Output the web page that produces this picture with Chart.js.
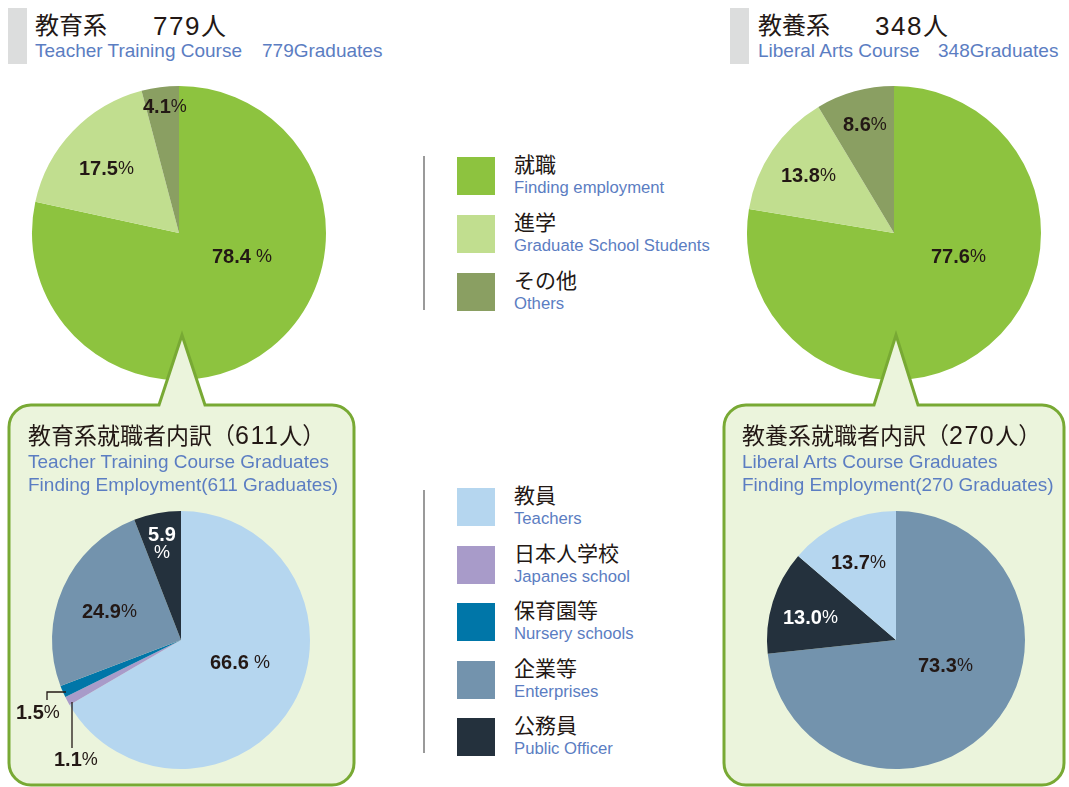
<!DOCTYPE html>
<html>
<head>
<meta charset="utf-8">
<script src="https://cdn.jsdelivr.net/npm/chart.js"></script>
<style>
  body { margin: 0; background: #fff; }
  #page { position: relative; width: 1069px; height: 787px; overflow: hidden;
          font-family: 'Liberation Sans', 'Noto Sans CJK JP', sans-serif; }
  .abs { position: absolute; white-space: nowrap; }
  .jp { color: #231815; font-family: 'Liberation Sans', 'Noto Sans CJK JP', sans-serif; }
  .en { color: #5b7dc2; font-family: 'Liberation Sans', sans-serif; }
  .num { letter-spacing: 1.5px; }
  .bar { position: absolute; background: #dcdddd; }
  .vline { position: absolute; width: 2px; background: #9a9a9a; }
  .sw { position: absolute; width: 38px; height: 38px; }
  canvas { position: absolute; }
</style>
</head>
<body>
<div id="page">
  <!-- headers -->
  <div class="bar" style="left:8px;top:8px;width:19px;height:56px"></div>
  <div class="abs jp" style="left:35px;top:11px;font-size:24px;line-height:30px">教育系</div>
  <div class="abs jp" style="left:153px;top:11px;font-size:25px;line-height:30px"><span class="num" style="font-size:26px">779</span>人</div>
  <div class="abs en" style="left:35px;top:40px;font-size:19px;line-height:22px">Teacher Training Course</div>
  <div class="abs en" style="left:262px;top:40px;font-size:19px;line-height:22px">779Graduates</div>

  <div class="bar" style="left:730px;top:8px;width:19px;height:56px"></div>
  <div class="abs jp" style="left:758px;top:11px;font-size:24px;line-height:30px">教養系</div>
  <div class="abs jp" style="left:875px;top:11px;font-size:25px;line-height:30px"><span class="num" style="font-size:26px">348</span>人</div>
  <div class="abs en" style="left:758px;top:40px;font-size:19px;line-height:22px">Liberal Arts Course</div>
  <div class="abs en" style="left:938px;top:40px;font-size:19px;line-height:22px">348Graduates</div>

  <canvas id="pieTL" width="340" height="310" style="left:10px;top:80px;z-index:1"></canvas>
  <canvas id="pieTR" width="330" height="310" style="left:730px;top:80px;z-index:1"></canvas>

  <svg class="abs" width="1069" height="787" style="left:0;top:0;z-index:2">
    <path id="boxL" fill="#ebf4dc" stroke="#78a934" stroke-width="3" stroke-linejoin="miter"></path>
    <path id="boxR" fill="#ebf4dc" stroke="#78a934" stroke-width="3" stroke-linejoin="miter"></path>
  </svg>

  <div id="boxText" style="position:absolute;left:0;top:0;z-index:3"></div>

  <canvas id="pieBL" width="340" height="280" style="left:10px;top:500px;z-index:3"></canvas>
  <canvas id="pieBR" width="330" height="280" style="left:728px;top:500px;z-index:3"></canvas>

  <div id="legends"></div>
</div>

<script>
// ---- data ----
const courseLabels = ['就職', '進学', 'その他'];
const courseLabelsEn = ['Finding employment', 'Graduate School Students', 'Others'];
const teacherCourseShares = [78.4, 17.5, 4.1];
const liberalCourseShares = [77.6, 13.8, 8.6];

const jobLabels = ['教員', '日本人学校', '保育園等', '企業等', '公務員'];
const jobLabelsEn = ['Teachers', 'Japanes school', 'Nursery schools', 'Enterprises', 'Public Officer'];
const teacherJobShares = [66.6, 1.1, 1.5, 24.9, 5.9];

const liberalJobLabels = ['企業等', '公務員', '教員'];
const liberalJobShares = [73.3, 13.0, 13.7];

// ---- colours ----
const courseColors = {'就職': '#8dc33f', '進学': '#c1de8f', 'その他': '#8a9f62'};
const jobColors = {'教員': '#b5d6ef', '日本人学校': '#a89bc9', '保育園等': '#0076a8', '企業等': '#7393ad', '公務員': '#24313d'};

const DARK = '#231815';

// ---- boxes with pointer ----
function boxPath(x0, x1, y0, y1, r, n0, apexX, apexY, n1) {
  return `M${x0 + r},${y0} L${n0},${y0} L${apexX},${apexY} L${n1},${y0} L${x1 - r},${y0} ` +
    `A${r},${r} 0 0 1 ${x1},${y0 + r} L${x1},${y1 - r} A${r},${r} 0 0 1 ${x1 - r},${y1} ` +
    `L${x0 + r},${y1} A${r},${r} 0 0 1 ${x0},${y1 - r} L${x0},${y0 + r} A${r},${r} 0 0 1 ${x0 + r},${y0} Z`;
}
document.getElementById('boxL').setAttribute('d', boxPath(9, 354, 405, 785, 22, 159, 182, 335, 205));
document.getElementById('boxR').setAttribute('d', boxPath(724, 1064, 405, 785, 22, 874, 896, 335, 918));

// box headings
document.getElementById('boxText').innerHTML = `
  <div class="abs jp" style="left:28px;top:420px;font-size:23px;line-height:30px">教育系就職者内訳（<span class="num" style="font-size:25px">611</span>人）</div>
  <div class="abs en" style="left:28px;top:451px;font-size:19px;line-height:22px">Teacher Training Course Graduates</div>
  <div class="abs en" style="left:28px;top:474px;font-size:19px;line-height:22px">Finding Employment(611 Graduates)</div>
  <div class="abs jp" style="left:742px;top:420px;font-size:23px;line-height:30px">教養系就職者内訳（<span class="num" style="font-size:25px">270</span>人）</div>
  <div class="abs en" style="left:742px;top:451px;font-size:19px;line-height:22px">Liberal Arts Course Graduates</div>
  <div class="abs en" style="left:742px;top:474px;font-size:19px;line-height:22px">Finding Employment(270 Graduates)</div>`;

// ---- legends ----
function legend(labels, labelsEn, colors, top, step, lineTop, lineBottom) {
  let html = `<div class="vline" style="left:423px;top:${lineTop}px;height:${lineBottom - lineTop}px"></div>`;
  labels.forEach((l, i) => {
    const y = top + i * step;
    html += `<div class="sw" style="left:457px;top:${y}px;background:${colors[l]}"></div>`;
    html += `<div class="abs jp" style="left:514px;top:${y - 6}px;font-size:21px;line-height:27px">${l}</div>`;
    html += `<div class="abs en" style="left:514px;top:${y + 21}px;font-size:16.7px;line-height:19px">${labelsEn[i]}</div>`;
  });
  return html;
}
document.getElementById('legends').innerHTML =
  legend(courseLabels, courseLabelsEn, courseColors, 157, 58, 156, 310) +
  legend(jobLabels, jobLabelsEn, jobColors, 488, 57.5, 490, 753);

// ---- slice labels plugin ----
const sliceLabels = {
  id: 'sliceLabels',
  afterDatasetsDraw(chart, args, opts) {
    const arc = chart.getDatasetMeta(0).data[0];
    const cx = arc.x, cy = arc.y;
    const ctx = chart.ctx;
    const values = chart.data.datasets[0].data;
    ctx.save();
    ctx.textBaseline = 'middle';
    opts.marks.forEach((m, i) => {
      const num = values[i].toFixed(1);
      ctx.fillStyle = m.color || DARK;
      if (m.line) {
        ctx.strokeStyle = DARK;
        ctx.lineWidth = 1.3;
        ctx.beginPath();
        m.line.forEach(([px, py], k) => k ? ctx.lineTo(cx + px, cy + py) : ctx.moveTo(cx + px, cy + py));
        ctx.stroke();
      }
      if (m.stack) {
        ctx.textAlign = 'center';
        ctx.font = 'bold 20px "Liberation Sans"';
        ctx.fillText(num, cx + m.dx, cy + m.dy);
        ctx.font = '18px "Liberation Sans"';
        ctx.fillText('%', cx + m.dx, cy + m.dy + 18);
        return;
      }
      ctx.textAlign = 'left';
      ctx.font = 'bold 20px "Liberation Sans"';
      ctx.fillText(num, cx + m.dx, cy + m.dy);
      const w = ctx.measureText(num).width;
      ctx.font = '18px "Liberation Sans"';
      ctx.fillText('%', cx + m.dx + w + (m.gap || 0), cy + m.dy);
    });
    ctx.restore();
  }
};

function makePie(id, left, top, w, h, cx, cy, r, labels, values, colors, marks) {
  new Chart(document.getElementById(id), {
    type: 'pie',
    data: {
      labels: labels,
      datasets: [{
        data: values,
        backgroundColor: labels.map(l => colors[l]),
        borderWidth: 0
      }]
    },
    options: {
      responsive: false,
      animation: false,
      events: [],
      layout: {
        padding: {
          left: cx - r - left,
          right: left + w - cx - r,
          top: cy - r - top,
          bottom: top + h - cy - r
        }
      },
      plugins: {
        legend: { display: false },
        tooltip: { enabled: false },
        sliceLabels: { marks: marks }
      }
    },
    plugins: [sliceLabels]
  });
}

makePie('pieTL', 10, 80, 340, 310, 179, 233, 147, courseLabels, teacherCourseShares, courseColors, [
  { dx: 33, dy: 24, gap: 5 },
  { dx: -100, dy: -64 },
  { dx: -36, dy: -126 }
]);
makePie('pieTR', 730, 80, 330, 310, 894, 233, 147, courseLabels, liberalCourseShares, courseColors, [
  { dx: 37, dy: 24 },
  { dx: -113, dy: -57 },
  { dx: -51, dy: -108 }
]);
makePie('pieBL', 10, 500, 340, 280, 181, 640, 129, jobLabels, teacherJobShares, jobColors, [
  { dx: 29, dy: 23, gap: 5 },
  { dx: -127, dy: 120, line: [[-109, 62], [-109, 108]] },
  { dx: -165, dy: 73, line: [[-134, 60], [-134, 52], [-115, 52]] },
  { dx: -99, dy: -28 },
  { dx: -19, dy: -105, color: '#ffffff', stack: true }
]);
makePie('pieBR', 728, 500, 330, 280, 896, 640, 129, liberalJobLabels, liberalJobShares, jobColors, [
  { dx: 22, dy: 26 },
  { dx: -113, dy: -22, color: '#ffffff' },
  { dx: -65, dy: -77 }
]);
</script>
</body>
</html>
